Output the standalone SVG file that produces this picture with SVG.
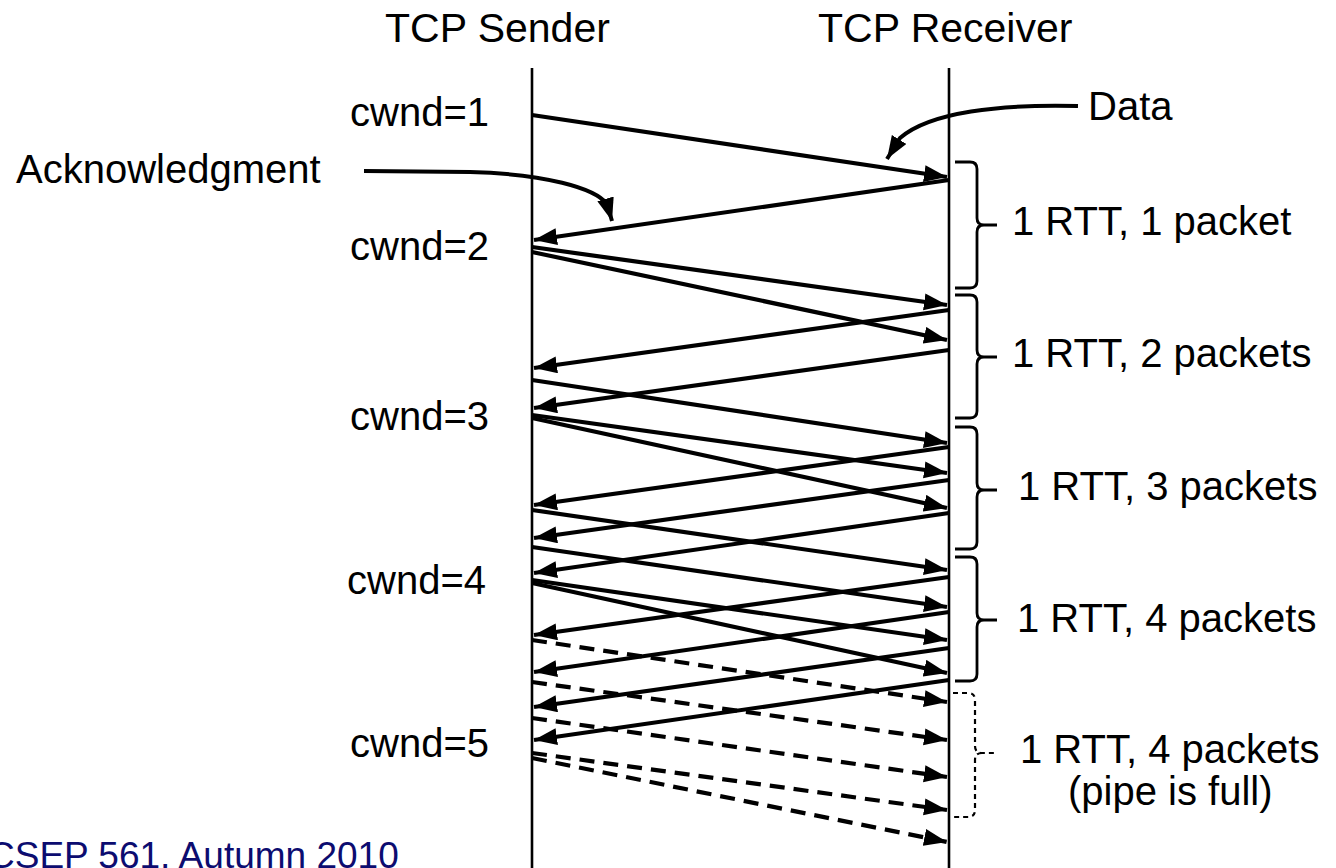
<svg xmlns="http://www.w3.org/2000/svg" width="1336" height="868" viewBox="0 0 1336 868">
  <defs>
    <style>
      .lbl { font-family: "Liberation Sans", Arial, Helvetica, sans-serif; fill: #000; }
      .big { font-size: 40px; }
      .head { font-size: 41px; }
      .foot { font-family: "Liberation Sans", Arial, sans-serif; font-size: 37px; fill: #0c0c70; }
      .life { stroke: #000; stroke-width: 2.6; fill: none; }
      .msg { stroke: #000; stroke-width: 4.2; fill: none; marker-end: url(#head); }
      .dash { stroke-dasharray: 15 9; }
      .brace { stroke: #000; stroke-width: 2.8; fill: none; }
      .brace.dashed { stroke-width: 2.2; stroke-dasharray: 5 4; }
      .callout { stroke: #000; stroke-width: 4; fill: none; marker-end: url(#head); }
    </style>
    <marker id="head" markerUnits="userSpaceOnUse" markerWidth="25" markerHeight="18" refX="23" refY="8.5" orient="auto">
      <path d="M0,0 L23,8.5 L0,17 z" fill="#000"/>
    </marker>
  </defs>

  <rect width="1336" height="868" fill="#fff"/>

  <!-- column headers and lifelines -->
  <g id="sender">
    <text class="lbl head" x="385" y="42">TCP Sender</text>
    <line class="life" x1="532" y1="68" x2="532" y2="868"/>
  </g>
  <g id="receiver">
    <text class="lbl head" x="818" y="42">TCP Receiver</text>
    <line class="life" x1="949" y1="68" x2="949" y2="868"/>
  </g>

  <!-- congestion window labels -->
  <g id="cwnd-labels">
    <text class="lbl big" x="350" y="126">cwnd=1</text>
    <text class="lbl big" x="350" y="260">cwnd=2</text>
    <text class="lbl big" x="350" y="430">cwnd=3</text>
    <text class="lbl big" x="347" y="594">cwnd=4</text>
    <text class="lbl big" x="350" y="757">cwnd=5</text>
  </g>

  <!-- callout labels -->
  <g id="data-callout">
    <text class="lbl big" x="1088" y="120">Data</text>
    <path class="callout" d="M1078,106 C1000,104 930,112 900,138 L887,159"/>
  </g>
  <g id="ack-callout">
    <text class="lbl big" x="16" y="183">Acknowledgment</text>
    <path class="callout" d="M364,171 L470,172 C545,174 595,188 607,204 L612,221"/>
  </g>

  <!-- round-trip braces -->
  <g id="rtt-1">
    <path class="brace" d="M955,162 L970,162 Q977,162 977,169 L977,218 Q977,225 984,225 L997,225 M984,225 Q977,225 977,232 L977,281 Q977,288 970,288 L955,288"/>
    <text class="lbl big" x="1012" y="235">1 RTT, 1 packet</text>
  </g>
  <g id="rtt-2">
    <path class="brace" d="M955,295 L970,295 Q977,295 977,302 L977,350 Q977,357 984,357 L997,357 M984,357 Q977,357 977,364 L977,411 Q977,418 970,418 L955,418"/>
    <text class="lbl big" x="1012" y="367">1 RTT, 2 packets</text>
  </g>
  <g id="rtt-3">
    <path class="brace" d="M955,427 L970,427 Q977,427 977,434 L977,483 Q977,490 984,490 L997,490 M984,490 Q977,490 977,497 L977,542 Q977,549 970,549 L955,549"/>
    <text class="lbl big" x="1018" y="500">1 RTT, 3 packets</text>
  </g>
  <g id="rtt-4">
    <path class="brace" d="M955,557 L970,557 Q977,557 977,564 L977,613 Q977,620 984,620 L997,620 M984,620 Q977,620 977,627 L977,674 Q977,681 970,681 L955,681"/>
    <text class="lbl big" x="1017" y="632">1 RTT, 4 packets</text>
  </g>
  <g id="rtt-5">
    <path class="brace dashed" d="M953,693 L968,693 Q975,693 975,700 L975,746 Q975,753 982,753 L995,753 M982,753 Q975,753 975,760 L975,810 Q975,817 968,817 L953,817"/>
    <text class="lbl big" x="1020" y="763">1 RTT, 4 packets</text>
    <text class="lbl big" x="1068" y="805">(pipe is full)</text>
  </g>

  <!-- segments and acknowledgements -->
  <g id="connectors">
    <!-- data segments, sender to receiver -->
    <line class="msg" x1="532" y1="115" x2="947" y2="177"/>
    <line class="msg" x1="532" y1="247" x2="947" y2="305"/>
    <line class="msg" x1="532" y1="252" x2="947" y2="340"/>
    <line class="msg" x1="532" y1="380" x2="947" y2="443"/>
    <line class="msg" x1="532" y1="415" x2="947" y2="473"/>
    <line class="msg" x1="532" y1="418" x2="947" y2="508"/>
    <line class="msg" x1="532" y1="510" x2="947" y2="570"/>
    <line class="msg" x1="532" y1="547" x2="947" y2="607"/>
    <line class="msg" x1="532" y1="580" x2="947" y2="640"/>
    <line class="msg" x1="532" y1="583" x2="947" y2="673"/>
    <!-- segments once the pipe is full -->
    <line class="msg dash" x1="532" y1="640" x2="947" y2="702"/>
    <line class="msg dash" x1="532" y1="682" x2="947" y2="740"/>
    <line class="msg dash" x1="532" y1="718" x2="947" y2="777"/>
    <line class="msg dash" x1="532" y1="753" x2="947" y2="810"/>
    <line class="msg dash" x1="532" y1="758" x2="947" y2="842"/>
    <!-- acknowledgements, receiver to sender -->
    <line class="msg" x1="949" y1="180" x2="534" y2="240"/>
    <line class="msg" x1="949" y1="310" x2="534" y2="368"/>
    <line class="msg" x1="949" y1="350" x2="534" y2="408"/>
    <line class="msg" x1="949" y1="447" x2="534" y2="505"/>
    <line class="msg" x1="949" y1="480" x2="534" y2="538"/>
    <line class="msg" x1="949" y1="513" x2="534" y2="573"/>
    <line class="msg" x1="949" y1="577" x2="534" y2="635"/>
    <line class="msg" x1="949" y1="612" x2="534" y2="672"/>
    <line class="msg" x1="949" y1="648" x2="534" y2="707"/>
    <line class="msg" x1="949" y1="680" x2="534" y2="740"/>
  </g>

  <text class="foot" x="-12" y="868">CSEP 561, Autumn 2010</text>
</svg>
